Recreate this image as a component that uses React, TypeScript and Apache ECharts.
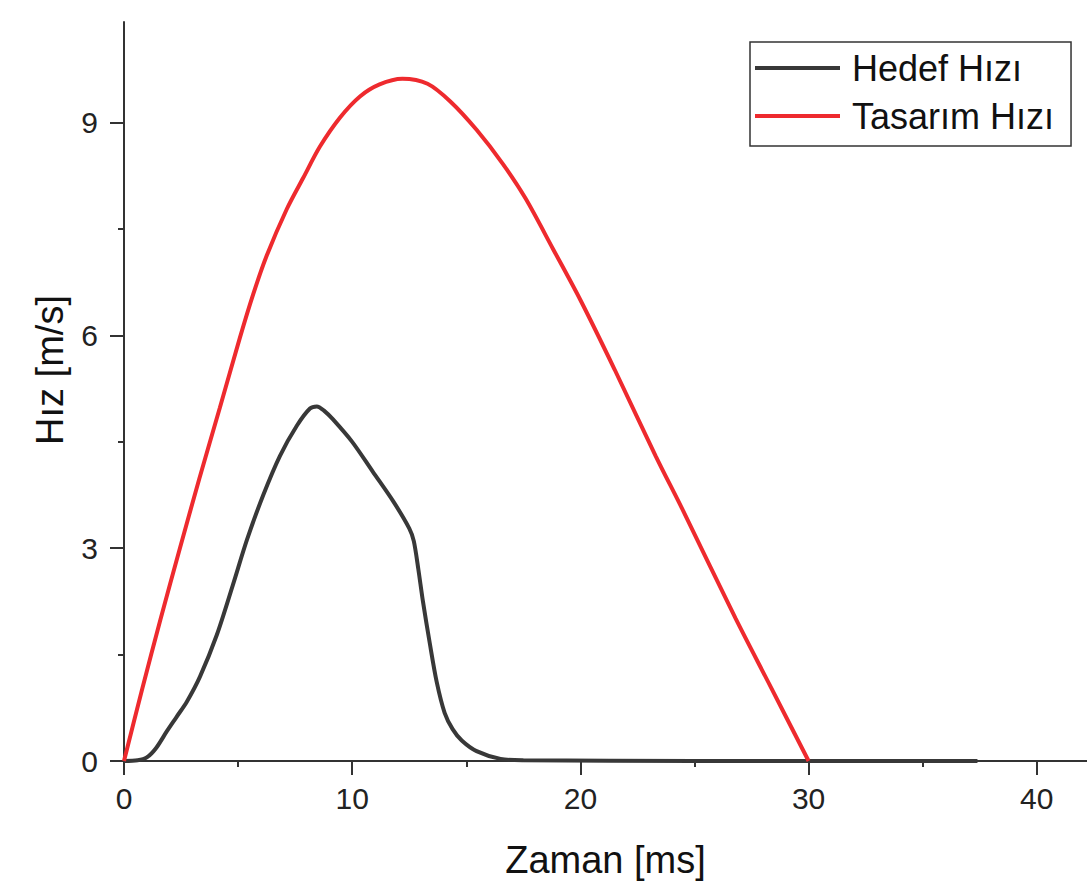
import React, { useEffect, useRef } from "react";
import * as echarts from "echarts";

const seriesNames = ["Hedef Hızı", "Tasarım Hızı"];

// Hedef Hızı (target speed)
const hedefT = [0, 0.6, 1.0, 1.4, 1.88, 2.3, 2.76, 3.33, 4.07, 4.77, 5.39, 6.09, 6.83, 7.58, 8.15, 8.45, 8.8, 9.15, 10.0, 10.9, 11.8, 12.5, 12.7, 12.9, 13.1, 13.4, 13.7, 14.05, 14.4, 14.8, 15.45, 16.5, 17.5, 25, 37.4];
const hedefV = [0, 0.01, 0.05, 0.18, 0.42, 0.62, 0.84, 1.19, 1.78, 2.48, 3.12, 3.74, 4.3, 4.73, 4.97, 5.0, 4.93, 4.82, 4.5, 4.08, 3.66, 3.28, 3.1, 2.7, 2.25, 1.66, 1.12, 0.68, 0.45, 0.29, 0.14, 0.03, 0.01, 0.0, 0.0];

// Tasarım Hızı (design speed)
const tasarimT = [0, 0.8, 1.6, 2.45, 3.3, 4.2, 5.08, 5.66, 6.26, 7.13, 7.85, 8.58, 9.46, 10.34, 11.2, 12.2, 13.3, 14.3, 15.45, 16.6, 17.6, 18.8, 20.0, 21.5, 23.3, 24.5, 26.8, 28.3, 30];
const tasarimV = [0, 1.02, 2.0, 3.0, 3.98, 4.98, 5.97, 6.58, 7.13, 7.78, 8.22, 8.66, 9.07, 9.37, 9.54, 9.62, 9.55, 9.3, 8.9, 8.42, 7.93, 7.22, 6.5, 5.52, 4.3, 3.53, 2.01, 1.07, 0];

const xMajorTicks = [0, 10, 20, 30, 40];
const xMinorTicks = [5, 15, 25, 35];
const yMajorTicks = [0, 3, 6, 9];
const yMinorTicks = [1.5, 4.5, 7.5];

const X_MAX = 42.2;
const Y_MAX = 10.42;
const FONT = "'Liberation Sans', Arial, sans-serif";
const AXIS_COLOR = "#333333";
const HEDEF_COLOR = "#383838";
const TASARIM_COLOR = "#ee2a2e";

export default function App() {
  const ref = useRef<HTMLDivElement>(null);
  useEffect(() => {
    if (!ref.current) return;
    const chart = echarts.init(ref.current, undefined, { renderer: "svg" });
    const hedefData = hedefT.map((t, i) => [t, hedefV[i]]);
    const tasarimData = tasarimT.map((t, i) => [t, tasarimV[i]]);
    const baseX = { type: "value", min: 0, max: X_MAX, position: "bottom", splitLine: { show: false } };
    const baseY = { type: "value", min: 0, max: Y_MAX, position: "left", splitLine: { show: false } };
    chart.setOption({
      animation: false,
      backgroundColor: "#ffffff",
      grid: { left: 124, right: 0, top: 22, bottom: 121, containLabel: false },
      xAxis: [
        {
          ...baseX,
          name: "Zaman [ms]",
          nameLocation: "middle",
          nameGap: 80,
          nameTextStyle: { fontSize: 38, fontFamily: FONT, color: "#111111" },
          axisLine: { show: true, onZero: false, lineStyle: { color: AXIS_COLOR, width: 2 } },
          axisTick: { show: true, customValues: xMajorTicks, length: 14, lineStyle: { color: AXIS_COLOR, width: 2 } },
          axisLabel: { show: true, customValues: xMajorTicks, margin: 22, fontSize: 30, fontFamily: FONT, color: "#222222" },
        },
        {
          ...baseX,
          axisLine: { show: false },
          axisTick: { show: true, customValues: xMinorTicks, length: 6, lineStyle: { color: AXIS_COLOR, width: 2 } },
          axisLabel: { show: false },
        },
      ],
      yAxis: [
        {
          ...baseY,
          axisLine: { show: true, onZero: false, lineStyle: { color: AXIS_COLOR, width: 2 } },
          axisTick: { show: true, customValues: yMajorTicks, length: 14, lineStyle: { color: AXIS_COLOR, width: 2 } },
          axisLabel: { show: true, customValues: yMajorTicks, margin: 26, fontSize: 30, fontFamily: FONT, color: "#222222" },
        },
        {
          ...baseY,
          axisLine: { show: false },
          axisTick: { show: true, customValues: yMinorTicks, length: 6, lineStyle: { color: AXIS_COLOR, width: 2 } },
          axisLabel: { show: false },
        },
      ],
      legend: {
        orient: "vertical",
        left: 750,
        top: 42,
        padding: [8, 17, 12, 5],
        itemGap: 12,
        itemWidth: 85,
        itemHeight: 4,
        icon: "rect",
        borderColor: "#333333",
        borderWidth: 1.5,
        data: seriesNames,
        textStyle: { fontSize: 36, fontFamily: FONT, color: "#111111", lineHeight: 34, padding: [0, 0, 0, 7] },
      },
      graphic: [
        {
          type: "text",
          x: 50,
          y: 370,
          rotation: Math.PI / 2,
          style: { text: "Hız [m/s]", fontSize: 38, fontFamily: FONT, fill: "#111111", align: "center", verticalAlign: "middle" },
        },
      ],
      series: [
        {
          name: seriesNames[0],
          type: "line",
          xAxisIndex: 0,
          yAxisIndex: 0,
          data: hedefData,
          symbol: "none",
          smooth: 0.3,
          lineStyle: { color: HEDEF_COLOR, width: 4 },
          itemStyle: { color: HEDEF_COLOR },
          z: 3,
        },
        {
          name: seriesNames[1],
          type: "line",
          xAxisIndex: 0,
          yAxisIndex: 0,
          data: tasarimData,
          symbol: "none",
          smooth: 0.3,
          lineStyle: { color: TASARIM_COLOR, width: 4 },
          itemStyle: { color: TASARIM_COLOR },
          z: 4,
        },
      ],
    });
    return () => chart.dispose();
  }, []);
  return (
    <div
      ref={ref}
      style={{ position: "fixed", left: 0, top: 0, width: 1087, height: 884, background: "#ffffff" }}
    />
  );
}
